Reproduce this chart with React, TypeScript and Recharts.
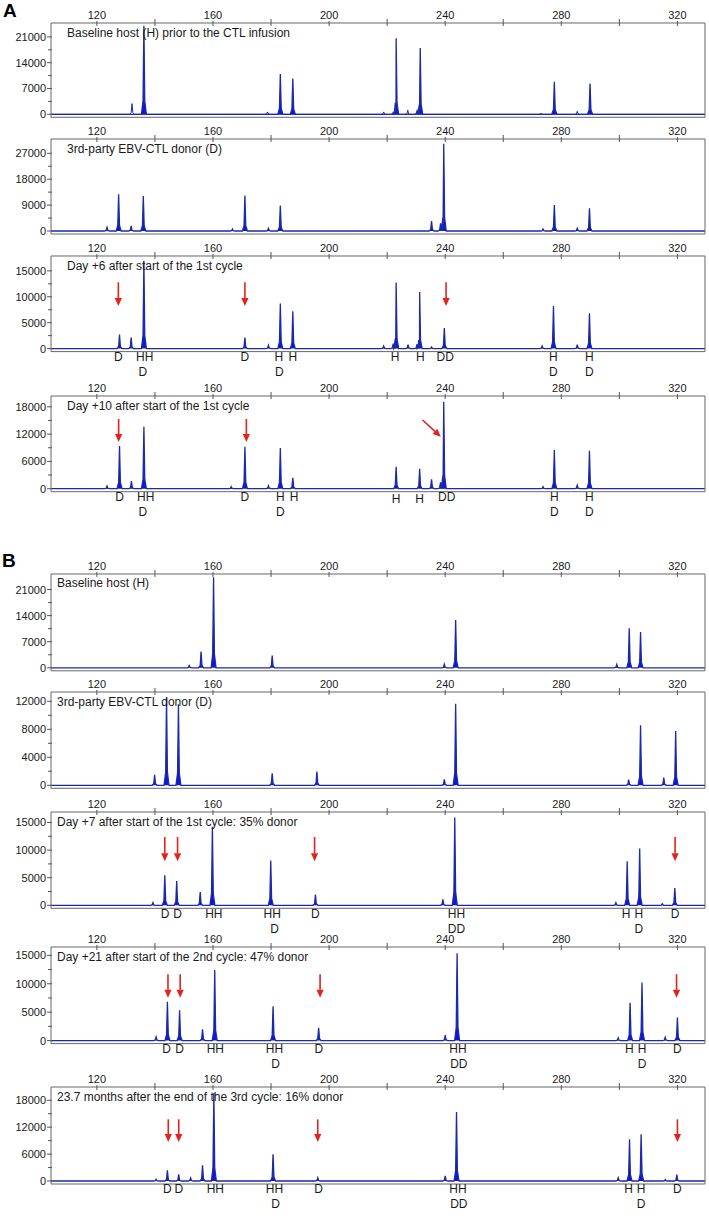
import { Area, AreaChart, ReferenceArea, ReferenceDot, ReferenceLine, XAxis, YAxis } from "recharts";

const FONT = '"Liberation Sans", Arial, sans-serif';
const BLUE = "#1212dc";
const EDGE = "#1a2aa8";
const RED = "#e3221b";
const INK = "#1a1a1a";

// [position (bp), height (RFU)]
type Peak = [number, number];
// [position, text, row, extra dy]
type Tag = [number, string, number, number?];
// [x1, y1, x2, y2] in data units
type Arrow = [number, number, number, number];

const xDomain: [number, number] = [104.2, 329.5];
const xTicks = [120, 140, 160, 180, 200, 220, 240, 260, 280, 300, 320];
const xLabels = [120, 160, 200, 240, 280, 320];

const titles = [
  "Baseline host (H) prior to the CTL infusion",
  "3rd-party EBV-CTL donor (D)",
  "Day +6 after start of the 1st cycle",
  "Day +10 after start of the 1st cycle",
  "Baseline host (H)",
  "3rd-party EBV-CTL donor (D)",
  "Day +7 after start of the 1st cycle: 35% donor",
  "Day +21 after start of the 2nd cycle: 47% donor",
  "23.7 months after the end of the 3rd cycle: 16% donor",
];

// ---- Panel A ----
const a1Peaks: Peak[] = [
  [136.2, 24000], [183.2, 10900], [187.5, 9730], [222.2, 700], [223.1, 20600],
  [230.3, 900], [231.4, 18000], [277.6, 8800], [289.9, 8360],
];
// outline-only stutter peaks
const a1Minor: Peak[] = [[132.1, 2900], [178.8, 640], [218.8, 640], [227.1, 1100], [273.0, 300], [285.5, 800]];

const a2Peaks: Peak[] = [
  [123.5, 1280], [127.5, 12770], [131.8, 1740], [136.0, 12190], [166.7, 700], [171.0, 12310],
  [179.1, 930], [183.2, 8830], [235.3, 3480], [238.4, 2670], [239.5, 30300], [273.7, 700],
  [277.6, 9060], [285.5, 930], [289.7, 7900],
];

const a3Peaks: Peak[] = [
  [127.8, 2700], [131.8, 2120], [136.2, 16900], [171.0, 2120], [179.1, 640], [183.2, 8690],
  [187.5, 7210], [218.8, 510], [222.1, 970], [223.1, 12740], [227.2, 770], [230.3, 840],
  [231.2, 10940], [235.3, 320], [239.7, 3990], [273.4, 510], [277.3, 8240], [285.5, 770], [289.7, 6820],
];
const a3Tags: Tag[] = [
  [127.4, "D", 0], [136.5, "HH", 0], [135.8, "D", 1], [171.0, "D", 0], [182.7, "H", 0], [187.5, "H", 0],
  [182.9, "D", 1], [222.7, "H", 0], [231.4, "H", 0], [240.0, "DD", 0], [277.3, "H", 0], [277.3, "D", 1],
  [289.7, "H", 0], [289.7, "D", 1],
];
const a3Arrows: Arrow[] = [[127.4, 12800, 127.4, 8220], [171.0, 12800, 171.0, 8220], [240.3, 12800, 240.3, 8220]];

const a4Peaks: Peak[] = [
  [123.5, 590], [127.8, 9370], [131.9, 1680], [136.2, 13610], [166.3, 440], [171.0, 9220],
  [179.1, 660], [183.2, 8930], [187.5, 2410], [223.1, 4830], [231.2, 4390], [235.3, 2050],
  [238.4, 1390], [239.5, 19100], [273.7, 440], [277.6, 8490], [285.5, 800], [289.7, 8340],
];
const a4Tags: Tag[] = [
  [127.8, "D", 0], [136.8, "HH", 0], [135.8, "D", 1], [171.0, "D", 0], [183.2, "H", 0], [187.9, "H", 0],
  [183.2, "D", 1], [223.1, "H", 0, 2], [231.2, "H", 0, 2], [240.5, "DD", 0], [277.6, "H", 0], [277.6, "D", 1],
  [289.7, "H", 0], [289.7, "D", 1],
];
const a4Arrows: Arrow[] = [[127.5, 15320, 127.5, 10240], [171.5, 15320, 171.5, 10240], [232.2, 15100, 238.5, 11430]];

// ---- Panel B ----
const b1Peaks: Peak[] = [
  [151.8, 620], [155.9, 4370], [160.2, 24260], [180.4, 3300], [239.7, 980], [243.6, 12850],
  [299.1, 890], [303.4, 10610], [307.3, 9630],
];

const b2Peaks: Peak[] = [
  [139.9, 1480], [144.0, 12520], [148.1, 11570], [180.4, 1710], [195.8, 1950], [239.7, 860],
  [243.6, 11660], [303.2, 810], [307.3, 8570], [315.3, 1100], [319.4, 7760],
];

const b3Peaks: Peak[] = [
  [139.3, 490], [143.4, 5450], [147.5, 4420], [155.6, 2420], [159.8, 14240], [179.9, 8120],
  [195.3, 1940], [239.2, 1090], [243.3, 15880], [298.8, 490], [302.7, 8000], [307.0, 10300],
  [314.8, 300], [319.1, 3150],
];
const b3Tags: Tag[] = [
  [143.5, "D", 0], [147.8, "D", 0], [160.3, "HH", 0], [180.4, "HH", 0], [181.2, "D", 1], [195.3, "D", 0],
  [243.9, "HH", 0], [243.9, "DD", 1], [302.3, "H", 0], [306.7, "H", 0], [306.7, "D", 1], [319.2, "D", 0],
];
const b3Arrows: Arrow[] = [
  [143.4, 12360, 143.4, 7960], [147.8, 12360, 147.8, 7960], [195.0, 12360, 195.0, 7960], [319.2, 12360, 319.2, 7960],
];

const b4Peaks: Peak[] = [
  [140.4, 650], [144.3, 6820], [148.5, 5350], [156.4, 2000], [160.6, 12400], [180.7, 6060],
  [196.4, 2230], [240.0, 940], [244.1, 15350], [299.6, 470], [303.7, 6650], [307.8, 10230],
  [315.8, 590], [320.0, 4060],
];
const b4Tags: Tag[] = [
  [144.0, "D", 0], [148.5, "D", 0], [160.8, "HH", 0], [181.2, "HH", 0], [181.6, "D", 1], [196.5, "D", 0],
  [244.4, "HH", 0], [244.7, "DD", 1], [303.4, "H", 0], [307.8, "H", 0], [307.8, "D", 1], [320.0, "D", 0],
];
const b4Arrows: Arrow[] = [
  [144.5, 11690, 144.5, 7520], [148.7, 11690, 148.7, 7520], [196.9, 11690, 196.9, 7520], [319.7, 11690, 319.7, 7520],
];

const b5Peaks: Peak[] = [
  [140.4, 370], [144.3, 2380], [148.2, 1490], [152.3, 670], [156.4, 3490], [160.3, 19630],
  [180.7, 5950], [196.1, 740], [240.0, 1120], [243.9, 15390], [299.6, 740], [303.5, 9290],
  [307.5, 10410], [315.8, 300], [319.8, 1410],
];
const b5Tags: Tag[] = [
  [144.3, "D", 0], [148.2, "D", 0], [160.8, "HH", 0], [181.2, "HH", 0], [181.6, "D", 1], [196.4, "D", 0],
  [244.4, "HH", 0], [244.7, "DD", 1], [303.2, "H", 0], [307.5, "H", 0], [307.5, "D", 1], [320.0, "D", 0],
];
const b5Arrows: Arrow[] = [
  [144.6, 13760, 144.6, 8700], [148.2, 13760, 148.2, 8700], [196.1, 13760, 196.1, 8700], [320.0, 13760, 320.0, 8700],
];

const yTicksA1 = [0, 3500, 7000, 10500, 14000, 17500, 21000];
const yTicksA2 = [0, 4500, 9000, 13500, 18000, 22500, 27000];
const yTicks5k = [0, 2500, 5000, 7500, 10000, 12500, 15000];
const yTicks6k = [0, 3000, 6000, 9000, 12000, 15000, 18000];
const yTicks4k = [0, 2000, 4000, 6000, 8000, 10000, 12000];

type PanelCfg = {
  title: string;
  titleX: number;
  top: number;
  bottom: number;
  y: [number, number];
  yTicks: number[];
  yStep: number;
  peaks: Peak[];
  minor?: Peak[];
  tags?: Tag[];
  arrows?: Arrow[];
};

const panels: PanelCfg[] = [
  { title: titles[0], titleX: 67, top: 22.7, bottom: 117, y: [-814, 24770], yTicks: yTicksA1, yStep: 7000, peaks: a1Peaks, minor: a1Minor },
  { title: titles[1], titleX: 67, top: 139, bottom: 234, y: [-1040, 31970], yTicks: yTicksA2, yStep: 9000, peaks: a2Peaks },
  { title: titles[2], titleX: 67, top: 255.7, bottom: 351.3, y: [-580, 17870], yTicks: yTicks5k, yStep: 5000, peaks: a3Peaks, tags: a3Tags, arrows: a3Arrows },
  { title: titles[3], titleX: 67, top: 396, bottom: 491.7, y: [-660, 20375], yTicks: yTicks6k, yStep: 6000, peaks: a4Peaks, tags: a4Tags, arrows: a4Arrows },
  { title: titles[4], titleX: 57, top: 573.5, bottom: 670.3, y: [-800, 25160], yTicks: yTicksA1, yStep: 7000, peaks: b1Peaks },
  { title: titles[5], titleX: 57, top: 691.7, bottom: 788, y: [-430, 13330], yTicks: yTicks4k, yStep: 4000, peaks: b2Peaks },
  { title: titles[6], titleX: 57, top: 811.7, bottom: 908, y: [-540, 16900], yTicks: yTicks5k, yStep: 5000, peaks: b3Peaks, tags: b3Tags, arrows: b3Arrows },
  { title: titles[7], titleX: 57, top: 946.7, bottom: 1043.3, y: [-530, 16470], yTicks: yTicks5k, yStep: 5000, peaks: b4Peaks, tags: b4Tags, arrows: b4Arrows },
  { title: titles[8], titleX: 57, top: 1086.7, bottom: 1183.7, y: [-670, 20960], yTicks: yTicks6k, yStep: 6000, peaks: b5Peaks, tags: b5Tags, arrows: b5Arrows },
];

// chart-internal geometry
const PLOT_TOP = 25;
const PLOT_LEFT = 51;

// peak outline: [offset in bp, fraction of height]
const SHAPE: [number, number][] = [[-0.85, 0], [-0.3, 0.15], [0, 1], [0.3, 0.15], [0.85, 0]];

type Row = { x: number; y: number | null; m: number | null };

function buildRows(peaks: Peak[], minor: Peak[]): Row[] {
  const rows: Row[] = [
    { x: xDomain[0], y: 0, m: 0 },
    { x: xDomain[1], y: 0, m: 0 },
  ];
  peaks.forEach(([p, h]) => SHAPE.forEach(([dx, f]) => rows.push({ x: p + dx, y: h * f, m: null })));
  minor.forEach(([p, h]) => SHAPE.forEach(([dx, f]) => rows.push({ x: p + dx, y: null, m: h * f })));
  return rows.sort((a, b) => a.x - b.x);
}

function TopTick(props: any) {
  const { x, payload } = props;
  const labelled = xLabels.includes(payload.value);
  return (
    <g>
      <line x1={x} x2={x} y1={PLOT_TOP - (labelled ? 2 : 4)} y2={PLOT_TOP + 3} stroke="#555" />
      {labelled && (
        <text x={x} y={PLOT_TOP - 4} textAnchor="middle" fontSize={11} fontFamily={FONT} fill={INK}>
          {payload.value}
        </text>
      )}
    </g>
  );
}

function leftTick(step: number) {
  return (props: any) => {
    const { y, payload } = props;
    const labelled = payload.value % step === 0;
    return (
      <g>
        <line x1={PLOT_LEFT - (labelled ? 4 : 3)} x2={PLOT_LEFT + 1} y1={y} y2={y} stroke="#555" />
        {labelled && (
          <text x={PLOT_LEFT - 5} y={y + 4} textAnchor="end" fontSize={11} fontFamily={FONT} fill={INK}>
            {payload.value}
          </text>
        )}
      </g>
    );
  };
}

function ArrowShape(props: any) {
  const { x1, y1, x2, y2 } = props;
  const dx = x2 - x1;
  const dy = y2 - y1;
  const len = Math.hypot(dx, dy) || 1;
  const ux = dx / len;
  const uy = dy / len;
  const head = 8;
  const half = 3.6;
  const bx = x2 - ux * head;
  const by = y2 - uy * head;
  return (
    <g>
      <line x1={x1} y1={y1} x2={bx} y2={by} stroke={RED} strokeWidth={1.6} />
      <polygon
        points={`${x2},${y2} ${bx - uy * half},${by + ux * half} ${bx + uy * half},${by - ux * half}`}
        fill={RED}
      />
    </g>
  );
}

function Panel({ p }: { p: PanelCfg }) {
  const h = p.bottom - p.top;
  const rows = buildRows(p.peaks, p.minor ?? []);
  return (
    <>
      <div style={{ position: "absolute", left: 0, top: p.top - PLOT_TOP }}>
        <AreaChart width={709} height={h + PLOT_TOP + 40} data={rows} margin={{ top: 5, right: 4, left: 6, bottom: 40 }}>
          <XAxis
            dataKey="x"
            type="number"
            orientation="top"
            domain={xDomain}
            ticks={xTicks}
            interval={0}
            allowDataOverflow
            height={20}
            axisLine={false}
            tickLine={false}
            tick={TopTick}
          />
          <YAxis
            type="number"
            domain={p.y}
            ticks={p.yTicks}
            interval={0}
            allowDataOverflow
            width={45}
            axisLine={false}
            tickLine={false}
            tick={leftTick(p.yStep)}
          />
          {p.minor && (
            <Area
              dataKey="m"
              type="linear"
              stroke={EDGE}
              strokeWidth={1}
              fill="#ffffff"
              fillOpacity={0}
              connectNulls
              dot={false}
              activeDot={false}
              isAnimationActive={false}
            />
          )}
          <Area
            dataKey="y"
            type="linear"
            stroke={EDGE}
            strokeWidth={1.3}
            fill={BLUE}
            fillOpacity={1}
            connectNulls
            dot={false}
            activeDot={false}
            isAnimationActive={false}
          />
          <ReferenceArea x1={xDomain[0]} x2={xDomain[1]} y1={p.y[0]} y2={p.y[1]} fill="none" stroke="#666" strokeWidth={1} />
          {(p.arrows ?? []).map(([ax1, ay1, ax2, ay2], i) => (
            <ReferenceLine
              key={`a${i}`}
              segment={[{ x: ax1, y: ay1 }, { x: ax2, y: ay2 }]}
              shape={ArrowShape}
              ifOverflow="visible"
            />
          ))}
          {(p.tags ?? []).map(([tx, text, row, extra], i) => (
            <ReferenceDot
              key={`t${i}`}
              x={tx}
              y={0}
              r={0}
              ifOverflow="visible"
              shape={(s: any) => (
                <text
                  x={s.cx}
                  y={s.cy + 12.5 + row * 15 + (extra ?? 0)}
                  textAnchor="middle"
                  fontSize={12}
                  fontFamily={FONT}
                  fill={INK}
                >
                  {text}
                </text>
              )}
            />
          ))}
        </AreaChart>
      </div>
      <div
        style={{
          position: "absolute",
          left: p.titleX,
          top: p.top + 14 - 10.2,
          fontSize: 12,
          lineHeight: "12px",
          fontFamily: FONT,
          color: INK,
          whiteSpace: "nowrap",
        }}
      >
        {p.title}
      </div>
    </>
  );
}

export default function App() {
  return (
    <div style={{ position: "absolute", left: 0, top: 0, width: 709, height: 1222, background: "#fff", fontFamily: FONT }}>
      <div style={{ position: "absolute", left: 3, top: 1, fontSize: 19, lineHeight: "19px", fontWeight: 700 }}>A</div>
      <div style={{ position: "absolute", left: 2, top: 551, fontSize: 19, lineHeight: "19px", fontWeight: 700 }}>B</div>
      {panels.map((p, i) => (
        <Panel key={i} p={p} />
      ))}
    </div>
  );
}
